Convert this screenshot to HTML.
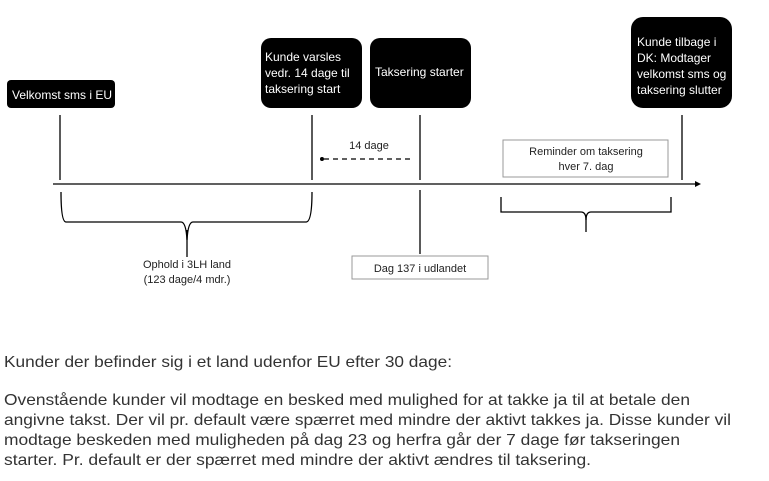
<!DOCTYPE html>
<html><head><meta charset="utf-8"><style>
html,body{margin:0;padding:0;background:#fff;width:769px;height:481px;overflow:hidden}
</style></head><body>
<svg width="769" height="481" viewBox="0 0 769 481" xmlns="http://www.w3.org/2000/svg" font-family="Liberation Sans, sans-serif">
<g fill="#000">
<rect x="7" y="80" width="108" height="28" rx="4"/>
<rect x="261" y="38" width="101" height="70" rx="10"/>
<rect x="370" y="38" width="101" height="70" rx="10"/>
<rect x="631" y="17" width="101" height="91" rx="12"/>
</g>
<g fill="#fff" font-size="12">
<text x="12" y="99">Velkomst sms i EU</text>
<text x="265" y="61">Kunde varsles</text>
<text x="265" y="77">vedr. 14 dage til</text>
<text x="265" y="93">taksering start</text>
<text x="375" y="76">Taksering starter</text>
<text x="637" y="46">Kunde tilbage i</text>
<text x="637" y="62">DK: Modtager</text>
<text x="637" y="78">velkomst sms og</text>
<text x="637" y="94">taksering slutter</text>
</g>
<g stroke="#000" stroke-width="1.3" fill="none">
<line x1="60" y1="115" x2="60" y2="180"/>
<line x1="312" y1="115" x2="312" y2="180"/>
<line x1="420" y1="115" x2="420" y2="180"/>
<line x1="682" y1="115" x2="682" y2="180"/>
<line x1="53" y1="184" x2="695" y2="184"/>
<line x1="420" y1="190" x2="420" y2="254"/>
<line x1="324" y1="159" x2="412" y2="159" stroke-dasharray="5,4"/>
<path d="M61 192 Q61 222 66 222 L181 222 Q186 222 187 240 Q188 222 193 222 L306 222 Q312 222 312 192"/>
<line x1="187" y1="230" x2="187" y2="257"/>
<path d="M501 197 L501 212 L581 212 Q586 212 586 220 Q586 212 591 212 L671 212 L671 197"/>
<line x1="586" y1="215" x2="586" y2="232"/>
</g>
<polygon points="695,181 701,184 695,187" fill="#000"/>
<circle cx="322" cy="159" r="2" fill="#000"/>
<rect x="352" y="256" width="136" height="23" fill="#fff" stroke="#999"/>
<rect x="503" y="140" width="165" height="37" fill="#fff" stroke="#999"/>
<g fill="#222" font-size="11" text-anchor="middle">
<text x="369" y="149">14 dage</text>
<text x="420" y="272">Dag 137 i udlandet</text>
<text x="586" y="155">Reminder om taksering</text>
<text x="586" y="170">hver 7. dag</text>
<text x="187" y="268">Ophold i 3LH land</text>
<text x="187" y="283">(123 dage/4 mdr.)</text>
</g>
<g fill="#333" font-size="16">
<text x="4" y="367" textLength="448" lengthAdjust="spacingAndGlyphs">Kunder der befinder sig i et land udenfor EU efter 30 dage:</text>
<text x="4" y="405" textLength="686" lengthAdjust="spacingAndGlyphs">Ovenstående kunder vil modtage en besked med mulighed for at takke ja til at betale den</text>
<text x="4" y="425" textLength="727" lengthAdjust="spacingAndGlyphs">angivne takst. Der vil pr. default være spærret med mindre der aktivt takkes ja. Disse kunder vil</text>
<text x="4" y="445" textLength="676" lengthAdjust="spacingAndGlyphs">modtage beskeden med muligheden på dag 23 og herfra går der 7 dage før takseringen</text>
<text x="4" y="465" textLength="587" lengthAdjust="spacingAndGlyphs">starter. Pr. default er der spærret med mindre der aktivt ændres til taksering.</text>
</g>
</svg>
</body></html>
